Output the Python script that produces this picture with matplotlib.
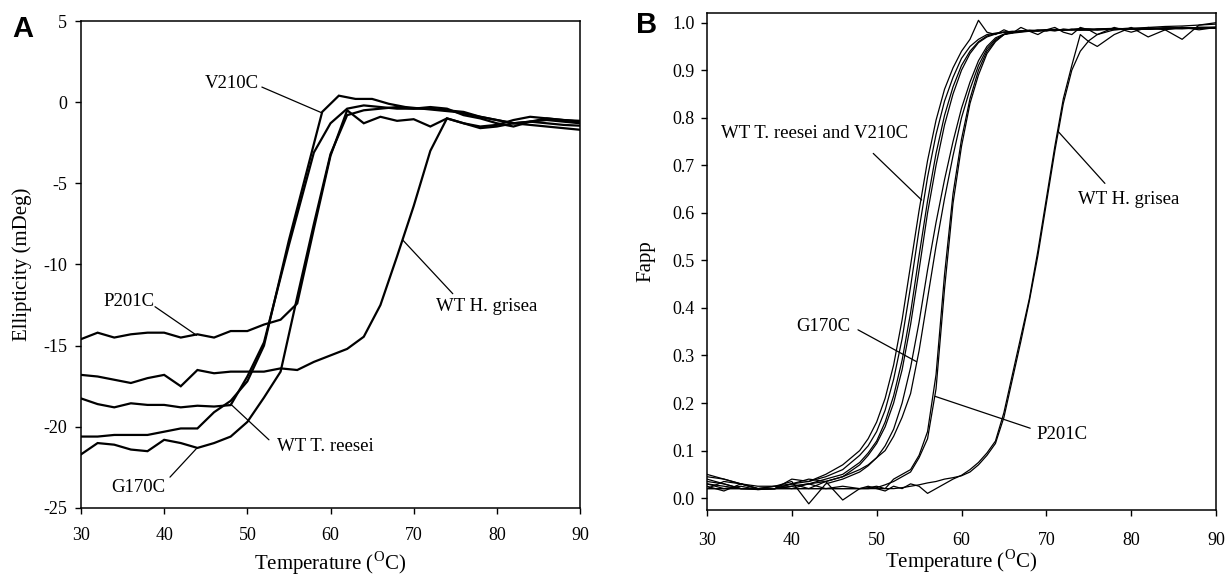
import matplotlib
matplotlib.use("Agg")
import matplotlib.pyplot as plt

plt.rcParams['font.family'] = ['Liberation Serif', 'DejaVu Serif']
plt.rcParams['mathtext.fontset'] = 'custom'
plt.rcParams['mathtext.rm'] = 'Liberation Serif'

# ---------------- Panel A data (Ellipticity, mDeg) ----------------
xA_p201c = [30, 32, 34, 36, 38, 40, 42, 44, 46, 48, 50, 52, 54, 56, 58, 60, 62, 64, 66, 68, 70, 72, 74, 76, 78, 80, 82, 84, 86, 88, 90]
yA_p201c = [-14.6, -14.2, -14.5, -14.3, -14.2, -14.2, -14.5, -14.3, -14.5, -14.1, -14.1, -13.7, -13.4, -12.4,
            -7.8, -3.3, -0.5, -1.3, -0.9, -1.15, -1.05, -1.5, -1.0, -1.3, -1.5, -1.4, -1.1, -0.9, -1.0, -1.1, -1.2]

xA_grisea = [30, 32, 34, 36, 38, 40, 42, 44, 46, 48, 50, 52, 54, 56, 58, 60, 62, 64, 66, 68, 70, 72, 74, 76, 78, 80, 82, 84, 86, 88, 90]
yA_grisea = [-16.8, -16.9, -17.1, -17.3, -17.0, -16.8, -17.5, -16.5, -16.7, -16.6, -16.6, -16.6, -16.4, -16.5,
             -16.0, -15.6, -15.2, -14.45, -12.5, -9.5, -6.4, -3.0, -1.0, -1.3, -1.6, -1.5, -1.3, -1.2, -1.3, -1.4, -1.45]

xA_reesei = [30, 32, 34, 36, 38, 40, 42, 44, 46, 48, 50, 52, 55, 58, 60, 62, 64, 66, 68, 70, 72, 74, 76, 78, 80, 82, 84, 86, 88, 90]
yA_reesei = [-18.25, -18.6, -18.8, -18.55, -18.65, -18.65, -18.8, -18.7, -18.75, -18.66, -16.9, -14.8, -8.8,
             -3.1, -1.3, -0.4, -0.2, -0.3, -0.4, -0.4, -0.4, -0.5, -0.6, -0.9, -1.1, -1.3, -1.4, -1.5, -1.6, -1.7]

xA_v210c = [30, 32, 34, 36, 38, 40, 42, 44, 46, 48, 50, 52, 55, 59, 61, 63, 65, 67, 69, 71, 73, 75, 78, 80, 82, 84, 86, 88, 90]
yA_v210c = [-20.6, -20.6, -20.5, -20.5, -20.5, -20.3, -20.1, -20.1, -19.1, -18.4, -17.2, -15.0, -8.5, -0.6, 0.4,
            0.2, 0.2, -0.1, -0.3, -0.4, -0.5, -0.6, -0.9, -1.1, -1.3, -1.2, -1.1, -1.2, -1.3]

xA_g170c = [30, 32, 34, 36, 38, 40, 42, 44, 46, 48, 50, 52, 54, 56, 58, 60, 62, 64, 66, 68, 70, 72, 74, 76, 78, 80, 82, 84, 86, 88, 90]
yA_g170c = [-21.7, -21.0, -21.1, -21.4, -21.5, -20.8, -21.0, -21.3, -21.0, -20.6, -19.7, -18.2, -16.6, -12.0,
            -7.5, -3.2, -0.8, -0.5, -0.4, -0.3, -0.4, -0.3, -0.4, -0.8, -1.0, -1.3, -1.5, -1.2, -1.0, -1.1, -1.15]

# ---------------- Panel B data (Fapp) ----------------
xB = [30, 32, 34, 36, 38, 40, 42, 44, 46, 48,
      49, 50, 51, 52, 53, 54, 55, 56, 57, 58,
      59, 60, 61, 62, 63, 64, 65, 66, 67, 68,
      69, 70, 71, 72, 73, 74, 75, 76,
      78, 80, 82, 84, 86, 88, 90]

yB_reesei_1 = [0.045, 0.04, 0.03, 0.025, 0.025, 0.03, 0.035, 0.045, 0.06, 0.09,
               0.11, 0.14, 0.185, 0.25, 0.335, 0.445, 0.565, 0.675, 0.765, 0.835,
               0.885, 0.925, 0.95, 0.965, 0.975, 0.978, 0.98, 0.98, 0.982, 0.983,
               0.982, 0.984, 0.983, 0.985, 0.985, 0.984, 0.985, 0.986,
               0.987, 0.986, 0.988, 0.987, 0.988, 0.99, 0.99]
yB_reesei_2 = [0.035, 0.03, 0.02, 0.02, 0.02, 0.025, 0.03, 0.04, 0.05, 0.075,
               0.095, 0.12, 0.16, 0.215, 0.29, 0.39, 0.51, 0.625, 0.725, 0.805,
               0.865, 0.91, 0.94, 0.96, 0.972, 0.977, 0.98, 0.982, 0.981, 0.983,
               0.984, 0.983, 0.985, 0.984, 0.986, 0.985, 0.984, 0.986,
               0.985, 0.987, 0.986, 0.988, 0.987, 0.989, 0.988]
yB_v210c_1 = [0.02, 0.035, 0.03, 0.02, 0.02, 0.04, 0.035, 0.05, 0.07, 0.1,
              0.125, 0.16, 0.21, 0.28, 0.375, 0.49, 0.605, 0.71, 0.795, 0.86,
              0.905, 0.94, 0.965, 1.005, 0.98, 0.975, 0.985, 0.978, 0.99, 0.982,
              0.975, 0.985, 0.99, 0.98, 0.975, 0.99, 0.985, 0.975,
              0.99, 0.98, 0.99, 0.985, 0.99, 0.985, 0.99]
yB_v210c_2 = [0.04, 0.03, 0.02, 0.018, 0.02, 0.03, 0.04, 0.035, 0.045, 0.07,
              0.09, 0.115, 0.15, 0.2, 0.27, 0.365, 0.48, 0.6, 0.7, 0.785,
              0.85, 0.9, 0.935, 0.958, 0.97, 0.976, 0.98, 0.981, 0.983, 0.982,
              0.984, 0.985, 0.983, 0.986, 0.985, 0.987, 0.986, 0.985,
              0.987, 0.988, 0.986, 0.988, 0.99, 0.989, 0.99]
yB_g170c_1 = [0.03, 0.025, 0.02, 0.02, 0.02, 0.025, 0.03, 0.035, 0.045, 0.06,
              0.07, 0.085, 0.1, 0.13, 0.17, 0.22, 0.31, 0.42, 0.53, 0.63,
              0.72, 0.8, 0.86, 0.91, 0.945, 0.965, 0.975, 0.98, 0.982, 0.983,
              0.984, 0.983, 0.985, 0.984, 0.986, 0.985, 0.986, 0.985,
              0.987, 0.986, 0.988, 0.987, 0.989, 0.988, 0.99]
yB_g170c_2 = [0.05, 0.04, 0.03, 0.02, 0.025, 0.035, -0.012, 0.03, 0.04, 0.055,
              0.068, 0.085, 0.11, 0.145, 0.2, 0.275, 0.37, 0.48, 0.58, 0.67,
              0.75, 0.82, 0.875, 0.92, 0.95, 0.968, 0.976, 0.98, 0.982, 0.984,
              0.983, 0.985, 0.984, 0.986, 0.985, 0.987, 0.986, 0.985,
              0.987, 0.988, 0.987, 0.989, 0.988, 0.99, 0.99]
yB_p201c_1 = [0.02, 0.02, 0.02, 0.02, 0.02, 0.02, 0.02, 0.02, 0.02, 0.02,
              0.02, 0.022, 0.028, 0.035, 0.045, 0.055, 0.085, 0.125, 0.23, 0.44,
              0.62, 0.74, 0.83, 0.89, 0.935, 0.96, 0.975, 0.98, 0.982, 0.984,
              0.983, 0.985, 0.984, 0.986, 0.985, 0.986, 0.987, 0.986,
              0.987, 0.988, 0.987, 0.989, 0.988, 0.99, 0.99]
yB_p201c_2 = [0.03, 0.02, 0.025, 0.018, 0.02, 0.03, 0.02, 0.035, -0.004, 0.02,
              0.022, 0.025, 0.02, 0.04, 0.05, 0.06, 0.09, 0.14, 0.26, 0.47,
              0.64, 0.755, 0.84, 0.9, 0.94, 0.962, 0.975, 0.978, 0.98, 0.982,
              0.984, 0.983, 0.986, 0.985, 0.986, 0.987, 0.985, 0.987,
              0.988, 0.987, 0.989, 0.988, 0.99, 0.989, 0.99]
yB_grisea_1 = [0.02, 0.02, 0.02, 0.02, 0.02, 0.02, 0.02, 0.02, 0.02, 0.02,
               0.02, 0.02, 0.02, 0.02, 0.022, 0.025, 0.028, 0.032, 0.035, 0.04,
               0.043, 0.047, 0.055, 0.07, 0.09, 0.115, 0.17, 0.25, 0.33, 0.415,
               0.51, 0.62, 0.73, 0.83, 0.9, 0.94, 0.962, 0.975,
               0.985, 0.988, 0.99, 0.992, 0.993, 0.995, 0.997]
yB_grisea_2 = [0.025, 0.015, 0.03, 0.02, 0.025, 0.02, 0.03, 0.02, 0.025, 0.02,
               0.025, 0.02, 0.015, 0.025, 0.02, 0.03, 0.025, 0.01, 0.02, 0.03,
               0.04, 0.048, 0.06, 0.075, 0.095, 0.12, 0.18, 0.26, 0.34, 0.42,
               0.52, 0.63, 0.74, 0.84, 0.91, 0.975, 0.96, 0.95,
               0.975, 0.99, 0.97, 0.985, 0.965, 0.995, 1.0]

xticks = [30, 40, 50, 60, 70, 80, 90]
yticksA = [5, 0, -5, -10, -15, -20, -25]
yticksB = [0.0, 0.1, 0.2, 0.3, 0.4, 0.5, 0.6, 0.7, 0.8, 0.9, 1.0]

xlabel = 'Temperature ($^{\\mathrm{O}}$C)'

fig = plt.figure(figsize=(12.25, 5.77), dpi=100)
axA = fig.add_axes([0.0661, 0.1196, 0.4074, 0.8440])
axB = fig.add_axes([0.5771, 0.1161, 0.4156, 0.8619])

TICK_FS = 13
ANN_FS = 13.5
LAB_FS = 15

for ax in (axA, axB):
    for s in ax.spines.values():
        s.set_linewidth(1.1)
    ax.tick_params(direction='out', length=4, width=1, labelsize=TICK_FS)
    ax.set_xlim(30, 90)
    ax.set_xticks(xticks)
    ax.set_xlabel(xlabel, fontsize=LAB_FS)

axA.tick_params(axis='x', pad=10)
axB.tick_params(axis='x', pad=12)
axA.tick_params(axis='y', pad=6)
axB.tick_params(axis='y', pad=5)

# Panel A curves
lwA = 1.6
for xs, ys in [(xA_p201c, yA_p201c), (xA_grisea, yA_grisea), (xA_reesei, yA_reesei),
               (xA_v210c, yA_v210c), (xA_g170c, yA_g170c)]:
    axA.plot(xs, ys, color='black', lw=lwA, solid_joinstyle='miter')
axA.set_ylim(-25, 5)
axA.set_yticks(yticksA)
axA.set_yticklabels([str(v) for v in yticksA])
axA.set_ylabel('Ellipticity (mDeg)', fontsize=LAB_FS)
axA.yaxis.set_label_coords(-0.098, 0.5)
axA.xaxis.set_label_coords(0.5, -0.085)

def label(ax, text, txy, start, end):
    ax.text(txy[0], txy[1], text, fontsize=ANN_FS, ha='center', va='center')
    ax.annotate('', xy=end, xytext=start,
                arrowprops=dict(arrowstyle='-', lw=0.9, color='black', shrinkA=0, shrinkB=0))

label(axA, 'V210C', (48.15, 1.12), (51.75, 0.93), (58.97, -0.66))
label(axA, 'P201C', (35.77, -12.25), (38.9, -12.6), (43.9, -14.36))
label(axA, 'G170C', (36.85, -23.71), (40.7, -23.1), (43.9, -21.33))
label(axA, 'WT T. reesei', (59.33, -21.19), (52.6, -20.8), (48.0, -18.6))
label(axA, 'WT H. grisea', (78.8, -12.56), (74.7, -11.8), (68.7, -8.5))

# Panel B curves
lwB = 0.9
for ys in [yB_reesei_1, yB_reesei_2, yB_v210c_1, yB_v210c_2, yB_g170c_1, yB_g170c_2,
           yB_p201c_1, yB_p201c_2, yB_grisea_1, yB_grisea_2]:
    axB.plot(xB, ys, color='black', lw=lwB)
axB.set_ylim(-0.025, 1.021)
axB.set_yticks(yticksB)
axB.set_yticklabels([f'{v:.1f}' for v in yticksB])
axB.set_ylabel('Fapp', fontsize=LAB_FS)
axB.yaxis.set_label_coords(-0.102, 0.5)
axB.xaxis.set_label_coords(0.5, -0.076)

label(axB, 'WT T. reesei and V210C', (42.74, 0.766), (49.6, 0.725), (55.3, 0.627))
label(axB, 'G170C', (43.74, 0.362), (47.8, 0.354), (54.7, 0.287))
label(axB, 'P201C', (71.86, 0.134), (68.1, 0.147), (56.9, 0.214))
label(axB, 'WT H. grisea', (79.76, 0.628), (76.9, 0.662), (71.4, 0.771))

fig.text(12 / 1225, 1 - 37 / 577, 'A', fontsize=21, fontweight='bold',
         family='Liberation Sans', ha='left', va='baseline')
fig.text(636 / 1225, 1 - 33 / 577, 'B', fontsize=21, fontweight='bold',
         family='Liberation Sans', ha='left', va='baseline')

fig.savefig('out.png', dpi=100)
